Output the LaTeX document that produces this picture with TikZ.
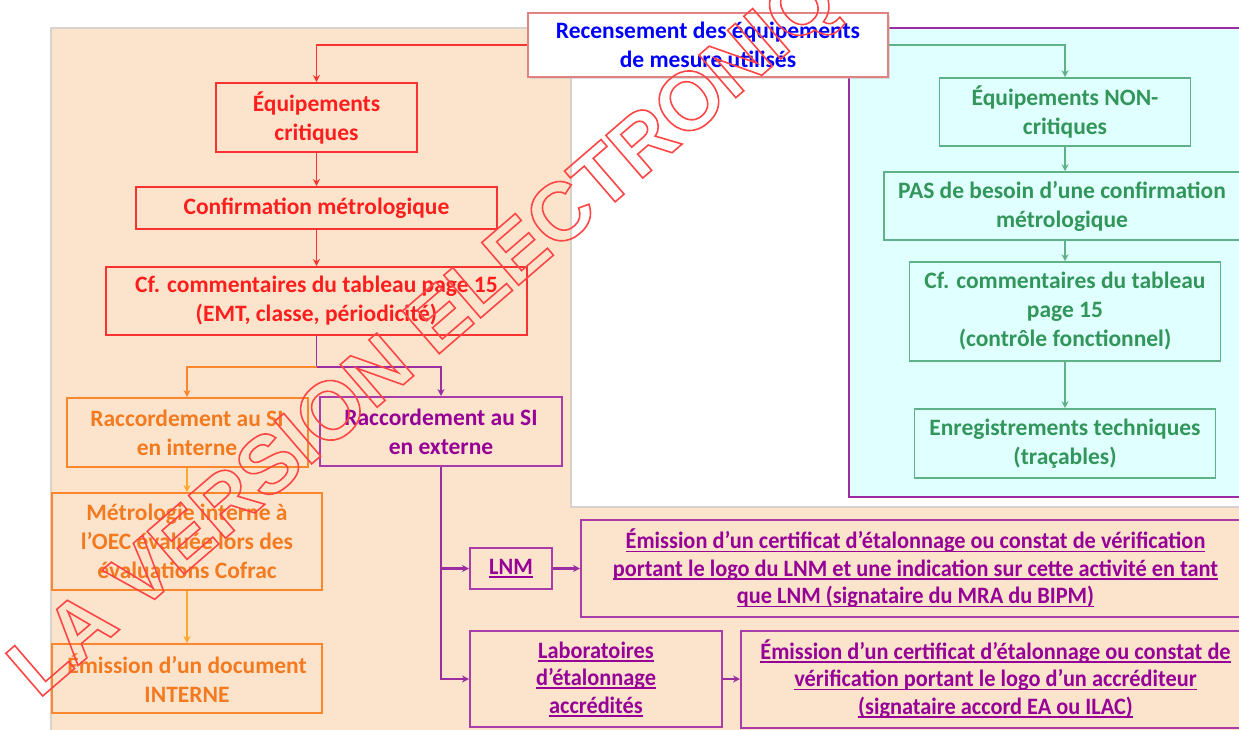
\documentclass[tikz,border=0pt]{standalone}
\usepackage{fontspec}
\setmainfont{Carlito}
\newfontfamily\condfont{Carlito}[FakeStretch=0.95]
\newfontfamily\wmfont{Liberation Sans}
\usetikzlibrary{arrows.meta,shadows}
\definecolor{peach}{RGB}{252,228,204}
\definecolor{cyanbg}{RGB}{224,255,255}
\definecolor{bggrey}{RGB}{215,210,205}
\definecolor{txtred}{RGB}{255,30,30}
\definecolor{boxred}{RGB}{250,50,50}
\definecolor{txtor}{RGB}{244,122,32}
\definecolor{boxor}{RGB}{250,135,45}
\definecolor{arror}{RGB}{255,168,45}
\definecolor{txtpur}{RGB}{150,0,150}
\definecolor{boxpur}{RGB}{170,60,170}
\definecolor{linepur}{RGB}{155,45,160}
\definecolor{txtgr}{RGB}{50,150,90}
\definecolor{boxgr}{RGB}{95,178,135}
\definecolor{txtblue}{RGB}{0,0,255}
\definecolor{recbd}{RGB}{225,130,130}
\definecolor{wmred}{RGB}{255,70,70}
\newcommand\myul[1]{\setbox0\hbox{#1}\rlap{\rule[-3.5pt]{\wd0}{1.6pt}}\box0}
\newcommand\outlinetext[1]{\special{pdf:literal direct 1 Tr 1.6 w 1 0.275 0.275 RG}#1\special{pdf:literal direct 0 Tr}}
\tikzset{
  box/.style={draw, line width=2, align=center, inner sep=0pt,
    font=\bfseries\fontsize{23.5}{29}\selectfont},
  rbox/.style={box, draw=boxred, text=txtred},
  obox/.style={box, draw=boxor, text=txtor},
  pbox/.style={box, draw=boxpur, text=txtpur},
  ptxt/.style={font=\condfont\bfseries\fontsize{23.5}{27.5}\selectfont},
  gbox/.style={box, draw=boxgr, text=txtgr, line width=1.6},
  tip/.style={-{Stealth[length=7,width=7]}},
  redarr/.style={tip, draw=boxred, line width=1.6},
  orarr/.style={tip, draw=boxor, line width=1.6},
  orarr2/.style={tip, draw=arror, line width=1.8},
  purline/.style={draw=linepur, line width=1.8},
  purarr/.style={tip, draw=linepur, line width=2.2},
  grarr/.style={tip, draw=boxgr, line width=1.3},
}
\begin{document}
\begin{tikzpicture}[x=1pt,y=-1pt]
\useasboundingbox (0,0) rectangle (1239,729);
\clip (0,0) rectangle (1239,729);
\fill[white] (0,0) rectangle (1239,729);
% backgrounds
\filldraw[fill=peach, draw=bggrey, line width=1.5] (51,28) -- (571,28) -- (571,507) -- (1250,507) -- (1250,740) -- (51,740) -- cycle;
\filldraw[fill=cyanbg, draw=linepur, line width=2.5] (849,28) rectangle (1250,497);
% top node
\node[box, fill=white, draw=recbd, line width=1.5, text=txtblue,
  drop shadow={shadow xshift=2pt, shadow yshift=-2pt, fill=black!25},
  minimum width=360, minimum height=64] (rec) at (708,45)
  {Recensement des équipements\\de mesure utilisés};
% red column
\node[rbox, minimum width=201, minimum height=69] (eqc) at (316.5,117.5) {Équipements\\critiques};
\node[rbox, minimum width=361, minimum height=42] (conf) at (316.5,208) {Confirmation métrologique};
\node[rbox, minimum width=421, minimum height=68] (cf1) at (316.5,301) {Cf. commentaires du tableau page 15\\(EMT, classe, périodicité)};
% orange column
\node[obox, minimum width=241, minimum height=69] (rint) at (187,432.5) {Raccordement au SI\\en interne};
\node[obox, minimum width=270, minimum height=97] (metro) at (187,541.5) {Métrologie interne à\\l’OEC évaluée lors des\\évaluations Cofrac};
\node[obox, minimum width=270, minimum height=69] (emdoc) at (187,678.5) {Émission d’un document\\INTERNE};
% purple
\node[pbox, minimum width=242, minimum height=69] (rext) at (441,431.5) {Raccordement au SI\\en externe};
\node[pbox, ptxt, minimum width=82, minimum height=41] (lnm) at (511,568.5) {\myul{LNM}};
\node[pbox, ptxt, minimum width=669, minimum height=97] (emlnm) at (915.5,568.5)
  {\myul{Émission d’un certificat d’étalonnage ou constat de vérification}\\
   \myul{portant le logo du LNM et une indication sur cette activité en tant}\\
   \myul{que LNM (signataire du MRA du BIPM)}};
\node[pbox, ptxt, minimum width=252, minimum height=96] (labo) at (596,679)
  {\myul{Laboratoires}\\\myul{d’étalonnage}\\\myul{accrédités}};
\node[pbox, ptxt, minimum width=509, minimum height=97] (emacc) at (995.5,679)
  {\myul{Émission d’un certificat d’étalonnage ou constat de}\\
   \myul{vérification portant le logo d’un accréditeur}\\
   \myul{(signataire accord EA ou ILAC)}};
% green column
\node[gbox, minimum width=251, minimum height=68] (nonc) at (1065,112) {Équipements NON-\\critiques};
\node[gbox, minimum width=356, minimum height=68] (pas) at (1062,206) {PAS de besoin d’une confirmation\\métrologique};
\node[gbox, minimum width=311, minimum height=99] (cf2) at (1065,311.5) {Cf. commentaires du tableau\\page 15\\(contrôle fonctionnel)};
\node[gbox, minimum width=301, minimum height=69] (enreg) at (1065,443.5) {Enregistrements techniques\\(traçables)};
% connectors
\draw[redarr] (rec.west) -| (eqc.north);
\draw[redarr] (eqc.south) -- (conf.north);
\draw[redarr] (conf.south) -- (cf1.north);
\coordinate (j) at (316.5,367);
\draw[purline] (cf1.south) -- (j);
\draw[orarr] (j) -| (rint.north);
\draw[purarr] (j) -| (rext.north);
\draw[orarr2] (rint.south) -- (metro.north);
\draw[orarr2] (metro.south) -- (emdoc.north);
\draw[purarr] (rext.south) |- (labo.west);
\draw[purarr] (rext.south |- lnm.west) -- (lnm.west);
\draw[purarr] (lnm.east) -- (emlnm.west);
\draw[purarr] (labo.east) -- (emacc.west);
\draw[grarr] (rec.east) -| (nonc.north);
\draw[grarr] (nonc.south) -- (nonc.south |- pas.north);
\draw[grarr] (cf2.north |- pas.south) -- (cf2.north);
\draw[grarr] (cf2.south) -- (enreg.north);
% watermark
\node[rotate=40.8, text=wmred, inner sep=0pt] (wm) at (470,300)
  {\wmfont\bfseries\fontsize{82}{82}\selectfont\outlinetext{LA VERSION ELECTRONIQUE}};
\end{tikzpicture}
\end{document}
